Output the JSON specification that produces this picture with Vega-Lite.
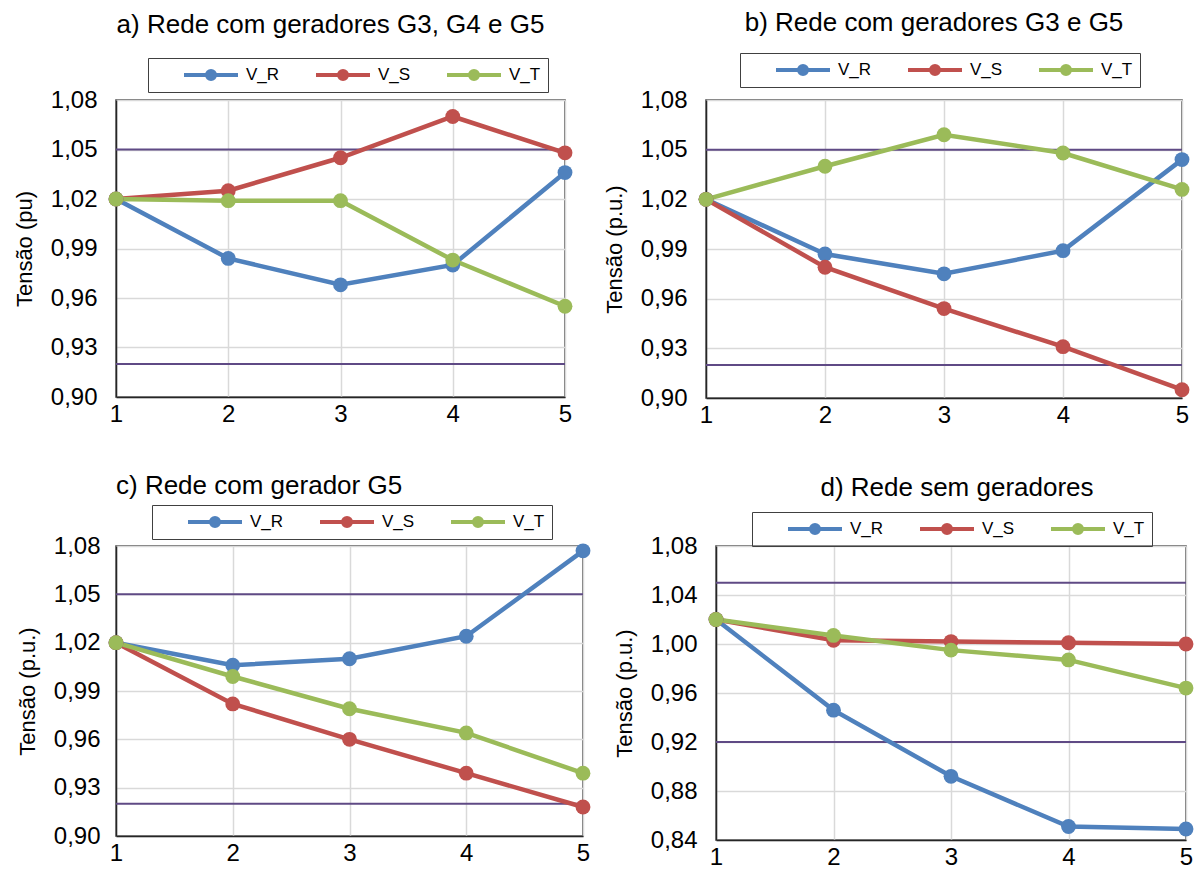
{
  "$schema": "https://vega.github.io/schema/vega-lite/v6.json",
  "background": "white",
  "padding": {"left": 12, "top": 8, "right": 0, "bottom": 0},
  "config": {
    "font": "Liberation Sans",
    "view": {"stroke": "#404040", "strokeWidth": 1.5},
    "axis": {"grid": true, "gridColor": "#D9D9D9", "gridWidth": 1.5, "ticks": false, "domainColor": "#262626", "domainWidth": 1.5, "labelFontSize": 24, "labelColor": "#000000", "titleFontSize": 22, "titleFontWeight": "normal", "titleColor": "#000000", "labelOverlap": false},
    "axisX": {"labelFlush": false, "labelPadding": 5},
    "axisY": {"labelPadding": 19, "titlePadding": 14},
    "title": {"fontSize": 26, "fontWeight": "normal", "color": "#000000", "baseline": "bottom", "frame": "group"},
    "legend": {"orient": "none", "direction": "horizontal", "title": null, "strokeColor": "#404040", "padding": 7, "symbolType": "M-1,0L1,0M0.15,0A0.15,0.15,0,1,1,-0.15,0A0.15,0.15,0,1,1,0.15,0Z", "symbolSize": 2916, "symbolStrokeWidth": 4, "symbolOffset": 27, "labelFontSize": 17, "labelOffset": 6, "columnPadding": 7, "clipHeight": 20, "symbolOpacity": 1}
  },
  "datasets": {
    "lim": [{"lim": 1.05}, {"lim": 0.92}],
    "a": [
      {"x": 1, "serie": "V_R", "v": 1.02}, {"x": 2, "serie": "V_R", "v": 0.984}, {"x": 3, "serie": "V_R", "v": 0.968}, {"x": 4, "serie": "V_R", "v": 0.98}, {"x": 5, "serie": "V_R", "v": 1.036},
      {"x": 1, "serie": "V_S", "v": 1.02}, {"x": 2, "serie": "V_S", "v": 1.025}, {"x": 3, "serie": "V_S", "v": 1.045}, {"x": 4, "serie": "V_S", "v": 1.07}, {"x": 5, "serie": "V_S", "v": 1.048},
      {"x": 1, "serie": "V_T", "v": 1.02}, {"x": 2, "serie": "V_T", "v": 1.019}, {"x": 3, "serie": "V_T", "v": 1.019}, {"x": 4, "serie": "V_T", "v": 0.983}, {"x": 5, "serie": "V_T", "v": 0.955}
    ],
    "b": [
      {"x": 1, "serie": "V_R", "v": 1.02}, {"x": 2, "serie": "V_R", "v": 0.987}, {"x": 3, "serie": "V_R", "v": 0.975}, {"x": 4, "serie": "V_R", "v": 0.989}, {"x": 5, "serie": "V_R", "v": 1.044},
      {"x": 1, "serie": "V_S", "v": 1.02}, {"x": 2, "serie": "V_S", "v": 0.979}, {"x": 3, "serie": "V_S", "v": 0.954}, {"x": 4, "serie": "V_S", "v": 0.931}, {"x": 5, "serie": "V_S", "v": 0.905},
      {"x": 1, "serie": "V_T", "v": 1.02}, {"x": 2, "serie": "V_T", "v": 1.04}, {"x": 3, "serie": "V_T", "v": 1.059}, {"x": 4, "serie": "V_T", "v": 1.048}, {"x": 5, "serie": "V_T", "v": 1.026}
    ],
    "c": [
      {"x": 1, "serie": "V_R", "v": 1.02}, {"x": 2, "serie": "V_R", "v": 1.006}, {"x": 3, "serie": "V_R", "v": 1.01}, {"x": 4, "serie": "V_R", "v": 1.024}, {"x": 5, "serie": "V_R", "v": 1.077},
      {"x": 1, "serie": "V_S", "v": 1.02}, {"x": 2, "serie": "V_S", "v": 0.982}, {"x": 3, "serie": "V_S", "v": 0.96}, {"x": 4, "serie": "V_S", "v": 0.939}, {"x": 5, "serie": "V_S", "v": 0.918},
      {"x": 1, "serie": "V_T", "v": 1.02}, {"x": 2, "serie": "V_T", "v": 0.999}, {"x": 3, "serie": "V_T", "v": 0.979}, {"x": 4, "serie": "V_T", "v": 0.964}, {"x": 5, "serie": "V_T", "v": 0.939}
    ],
    "d": [
      {"x": 1, "serie": "V_R", "v": 1.02}, {"x": 2, "serie": "V_R", "v": 0.946}, {"x": 3, "serie": "V_R", "v": 0.892}, {"x": 4, "serie": "V_R", "v": 0.851}, {"x": 5, "serie": "V_R", "v": 0.849},
      {"x": 1, "serie": "V_S", "v": 1.02}, {"x": 2, "serie": "V_S", "v": 1.003}, {"x": 3, "serie": "V_S", "v": 1.002}, {"x": 4, "serie": "V_S", "v": 1.001}, {"x": 5, "serie": "V_S", "v": 1.0},
      {"x": 1, "serie": "V_T", "v": 1.02}, {"x": 2, "serie": "V_T", "v": 1.007}, {"x": 3, "serie": "V_T", "v": 0.995}, {"x": 4, "serie": "V_T", "v": 0.987}, {"x": 5, "serie": "V_T", "v": 0.964}
    ]
  },
  "resolve": {"scale": {"color": "independent"}, "legend": {"color": "independent"}},
  "spacing": 43,
  "vconcat": [
    {
      "spacing": 27,
      "resolve": {"scale": {"color": "independent"}, "legend": {"color": "independent"}},
      "hconcat": [
        {
          "title": {"text": "a) Rede com geradores G3, G4 e G5", "anchor": "middle", "offset": 20, "dx": -10},
          "width": 449, "height": 297,
          "layer": [
            {"data": {"name": "lim"}, "mark": {"type": "rule", "color": "#5F4A85", "strokeWidth": 2},
             "encoding": {"y": {"field": "lim", "type": "quantitative", "scale": {"domain": [0.9, 1.08], "nice": false, "zero": false}, "axis": {"values": [0.9, 0.93, 0.96, 0.99, 1.02, 1.05, 1.08], "labelExpr": "replace(format(datum.value, '.2f'), '.', ',')"}, "title": "Tensão (pu)"}}},
            {"data": {"name": "a"}, "mark": {"type": "line", "strokeWidth": 4.5},
             "encoding": {
               "x": {"field": "x", "type": "quantitative", "scale": {"domain": [1, 5], "nice": false, "zero": false}, "axis": {"values": [1, 2, 3, 4, 5], "format": "d"}, "title": null},
               "y": {"field": "v", "type": "quantitative", "scale": {"domain": [0.9, 1.08], "nice": false, "zero": false}, "axis": {"values": [0.9, 0.93, 0.96, 0.99, 1.02, 1.05, 1.08], "labelExpr": "replace(format(datum.value, '.2f'), '.', ',')"}, "title": "Tensão (pu)"},
               "color": {"field": "serie", "type": "nominal", "scale": {"domain": ["V_R", "V_S", "V_T"], "range": ["#4F81BD", "#C0504D", "#9BBB59"]}, "legend": {"legendX": 32, "legendY": -42}}
             }},
            {"data": {"name": "a"}, "mark": {"type": "point", "filled": true, "size": 220, "opacity": 1},
             "encoding": {
               "x": {"field": "x", "type": "quantitative"},
               "y": {"field": "v", "type": "quantitative"},
               "color": {"field": "serie", "type": "nominal", "legend": {"legendX": 32, "legendY": -42}}
             }}
          ]
        },
        {
          "title": {"text": "b) Rede com geradores G3  e G5", "anchor": "middle", "offset": 17, "dx": -10},
          "width": 476, "height": 298,
          "layer": [
            {"data": {"name": "lim"}, "mark": {"type": "rule", "color": "#5F4A85", "strokeWidth": 2},
             "encoding": {"y": {"field": "lim", "type": "quantitative", "scale": {"domain": [0.9, 1.08], "nice": false, "zero": false}, "axis": {"values": [0.9, 0.93, 0.96, 0.99, 1.02, 1.05, 1.08], "labelExpr": "replace(format(datum.value, '.2f'), '.', ',')"}, "title": "Tensão (p.u.)"}}},
            {"data": {"name": "b"}, "mark": {"type": "line", "strokeWidth": 4.5},
             "encoding": {
               "x": {"field": "x", "type": "quantitative", "scale": {"domain": [1, 5], "nice": false, "zero": false}, "axis": {"values": [1, 2, 3, 4, 5], "format": "d"}, "title": null},
               "y": {"field": "v", "type": "quantitative", "scale": {"domain": [0.9, 1.08], "nice": false, "zero": false}, "axis": {"values": [0.9, 0.93, 0.96, 0.99, 1.02, 1.05, 1.08], "labelExpr": "replace(format(datum.value, '.2f'), '.', ',')"}, "title": "Tensão (p.u.)"},
               "color": {"field": "serie", "type": "nominal", "scale": {"domain": ["V_R", "V_S", "V_T"], "range": ["#4F81BD", "#C0504D", "#9BBB59"]}, "legend": {"legendX": 34, "legendY": -47}}
             }},
            {"data": {"name": "b"}, "mark": {"type": "point", "filled": true, "size": 220, "opacity": 1},
             "encoding": {
               "x": {"field": "x", "type": "quantitative"},
               "y": {"field": "v", "type": "quantitative"},
               "color": {"field": "serie", "type": "nominal", "legend": {"legendX": 34, "legendY": -47}}
             }}
          ]
        }
      ]
    },
    {
      "spacing": 19,
      "resolve": {"scale": {"color": "independent"}, "legend": {"color": "independent"}},
      "hconcat": [
        {
          "title": {"text": "c) Rede com gerador G5", "anchor": "start", "offset": 6},
          "width": 467, "height": 290,
          "layer": [
            {"data": {"name": "lim"}, "mark": {"type": "rule", "color": "#5F4A85", "strokeWidth": 2},
             "encoding": {"y": {"field": "lim", "type": "quantitative", "scale": {"domain": [0.9, 1.08], "nice": false, "zero": false}, "axis": {"values": [0.9, 0.93, 0.96, 0.99, 1.02, 1.05, 1.08], "labelExpr": "replace(format(datum.value, '.2f'), '.', ',')", "labelPadding": 16}, "title": "Tensão (p.u.)"}}},
            {"data": {"name": "c"}, "mark": {"type": "line", "strokeWidth": 4.5},
             "encoding": {
               "x": {"field": "x", "type": "quantitative", "scale": {"domain": [1, 5], "nice": false, "zero": false}, "axis": {"values": [1, 2, 3, 4, 5], "format": "d"}, "title": null},
               "y": {"field": "v", "type": "quantitative", "scale": {"domain": [0.9, 1.08], "nice": false, "zero": false}, "axis": {"values": [0.9, 0.93, 0.96, 0.99, 1.02, 1.05, 1.08], "labelExpr": "replace(format(datum.value, '.2f'), '.', ',')", "labelPadding": 16}, "title": "Tensão (p.u.)"},
               "color": {"field": "serie", "type": "nominal", "scale": {"domain": ["V_R", "V_S", "V_T"], "range": ["#4F81BD", "#C0504D", "#9BBB59"]}, "legend": {"legendX": 36, "legendY": -41}}
             }},
            {"data": {"name": "c"}, "mark": {"type": "point", "filled": true, "size": 220, "opacity": 1},
             "encoding": {
               "x": {"field": "x", "type": "quantitative"},
               "y": {"field": "v", "type": "quantitative"},
               "color": {"field": "serie", "type": "nominal", "legend": {"legendX": 36, "legendY": -41}}
             }}
          ]
        },
        {
          "title": {"text": "d) Rede sem geradores", "anchor": "middle", "offset": 11, "dx": 6},
          "width": 470, "height": 294,
          "layer": [
            {"data": {"name": "lim"}, "mark": {"type": "rule", "color": "#5F4A85", "strokeWidth": 2},
             "encoding": {"y": {"field": "lim", "type": "quantitative", "scale": {"domain": [0.84, 1.08], "nice": false, "zero": false}, "axis": {"values": [0.84, 0.88, 0.92, 0.96, 1.0, 1.04, 1.08], "labelExpr": "replace(format(datum.value, '.2f'), '.', ',')"}, "title": "Tensão (p.u.)"}}},
            {"data": {"name": "d"}, "mark": {"type": "line", "strokeWidth": 4.5},
             "encoding": {
               "x": {"field": "x", "type": "quantitative", "scale": {"domain": [1, 5], "nice": false, "zero": false}, "axis": {"values": [1, 2, 3, 4, 5], "format": "d"}, "title": null},
               "y": {"field": "v", "type": "quantitative", "scale": {"domain": [0.84, 1.08], "nice": false, "zero": false}, "axis": {"values": [0.84, 0.88, 0.92, 0.96, 1.0, 1.04, 1.08], "labelExpr": "replace(format(datum.value, '.2f'), '.', ',')"}, "title": "Tensão (p.u.)"},
               "color": {"field": "serie", "type": "nominal", "scale": {"domain": ["V_R", "V_S", "V_T"], "range": ["#4F81BD", "#C0504D", "#9BBB59"]}, "legend": {"legendX": 36, "legendY": -34}}
             }},
            {"data": {"name": "d"}, "mark": {"type": "point", "filled": true, "size": 220, "opacity": 1},
             "encoding": {
               "x": {"field": "x", "type": "quantitative"},
               "y": {"field": "v", "type": "quantitative"},
               "color": {"field": "serie", "type": "nominal", "legend": {"legendX": 36, "legendY": -34}}
             }}
          ]
        }
      ]
    }
  ]
}
